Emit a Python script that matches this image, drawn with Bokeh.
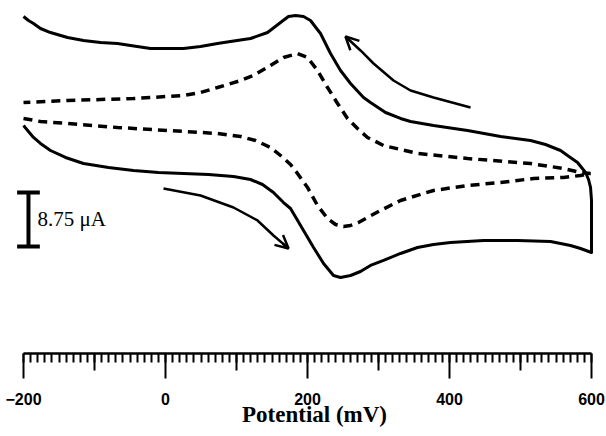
from bokeh.plotting import figure
from bokeh.models import Range1d, LinearAxis, FixedTicker, Label, Arrow, OpenHead, Grid
from bokeh.embed import file_html
from bokeh.resources import INLINE

# ---- data (potential in mV, current in uA) ----
solid_mv = [-200.0, -193.0, -185.9, -176.1, -162.0, -140.8, -115.5, -80.3, -45.1, -9.9,
            25.4, 60.6, 95.8, 119.7, 136.6, 152.1, 166.2, 176.1, 194.4, 208.5,
            222.6, 236.6, 246.5, 260.6, 274.6, 288.7, 307.1, 331.0, 354.9, 377.5,
            401.4, 447.9, 495.8, 542.3, 570.4, 584.5, 600.0, 600.0, 600.0, 598.6,
            595.8, 591.6, 580.3, 566.2, 556.4, 535.2, 514.1, 471.9, 425.4, 377.5,
            345.1, 331.0, 309.9, 288.7, 278.9, 260.6, 246.5, 232.4, 218.3, 204.2,
            194.4, 183.1, 173.2, 162.0, 143.7, 119.7, 91.5, 73.2, 49.3, 25.4,
            0.0, -21.1, -49.3, -67.6, -91.5, -115.5, -138.0, -162.0, -176.1, -185.9,
            -193.0, -200.0]
solid_ua = [8.10, 7.13, 6.16, 5.19, 4.05, 2.92, 1.94, 1.30, 0.81, 0.49,
            0.32, 0.16, -0.16, -0.65, -1.46, -2.75, -4.38, -5.35, -8.91, -11.67,
            -14.26, -16.21, -16.53, -16.21, -15.56, -14.58, -13.77, -12.64, -11.67, -11.18,
            -10.86, -10.53, -10.53, -10.70, -11.34, -11.83, -12.48, -8.91, -4.05, -1.94,
            -0.65, 0.49, 2.11, 3.24, 4.05, 5.02, 5.67, 6.32, 7.29, 8.10,
            8.75, 9.24, 10.21, 11.83, 12.64, 14.91, 17.02, 19.77, 23.01, 25.12,
            25.77, 25.93, 25.77, 24.79, 23.17, 22.20, 21.71, 21.39, 20.90, 20.58,
            20.58, 20.58, 21.07, 21.39, 21.55, 21.88, 22.36, 23.17, 23.82, 24.63,
            25.12, 25.77]

dashed_mv = [-200.0, -176.1, -138.0, -67.6, 2.8, 73.2, 105.6, 126.8, 147.9, 162.0,
             176.1, 185.9, 200.0, 214.1, 228.2, 239.4, 250.7, 260.6, 271.8, 284.5,
             302.8, 331.0, 377.5, 425.4, 471.9, 518.3, 560.6, 584.5, 598.6,
             584.5, 560.6, 514.1, 425.4, 354.9, 307.1, 284.5, 270.4, 256.3, 242.3,
             228.2, 214.1, 200.0, 185.9, 166.2, 147.9, 123.9, 105.6, 73.2, 49.3,
             25.4, -45.1, -138.0, -200.0]
dashed_ua = [9.24, 8.75, 8.43, 7.78, 7.29, 6.81, 6.32, 5.67, 4.54, 3.24,
             1.78, 0.32, -1.94, -4.86, -6.97, -7.94, -8.26, -8.10, -7.62, -6.81,
             -5.67, -4.05, -2.43, -1.62, -1.13, -0.49, -0.32, 0.0, 0.32,
             0.49, 1.13, 1.94, 2.75, 3.57, 4.86, 6.16, 7.62, 9.24, 11.67,
             14.26, 17.02, 19.12, 19.77, 19.12, 17.83, 16.21, 15.39, 14.26, 13.45,
             12.96, 12.48, 12.15, 11.83]

# scan-direction arrows
arrow_rev_mv = [429.6, 377.5, 345.1, 321.1, 293.0, 274.7, 256.4, 253.5]
arrow_rev_ua = [11.02, 12.64, 13.77, 15.39, 18.15, 20.26, 22.20, 22.52]
arrow_fwd_mv = [-2.8, 49.3, 95.8, 129.6, 152.1, 165.0, 173.3]
arrow_fwd_ua = [-2.11, -3.24, -5.19, -7.29, -9.72, -11.0, -11.83]

# scale bar
scale_ua = 8.75
scale_label = "8.75 \u03bcA"

# axis ticks
major_ticks = [-200, 0, 200, 400, 600]
mid_ticks = [-100, 100, 300, 500]
minor_ticks = list(range(-200, 601, 10))
x_title = "Potential (mV)"

# ---- layout constants ----
AXIS_Y = -28.84
SCALE_X = -193.0
SCALE_TOP = -2.75
SERIF_HALF = 16.0

p = figure(width=606, height=436, output_backend="svg", toolbar_location=None,
           x_range=Range1d(-232.4, 621.1), y_range=Range1d(-42.30, 28.36),
           x_axis_location=None, y_axis_location=None, min_border=0)
p.outline_line_color = None
p.background_fill_color = "white"
p.border_fill_color = "white"
p.center = [r for r in p.center if not isinstance(r, Grid)]

p.line(solid_mv, solid_ua, line_color="black", line_width=3, line_join="round")
p.line(dashed_mv, dashed_ua, line_color="black", line_width=3.5, line_dash="9 6")

for xs, ys in ((arrow_rev_mv, arrow_rev_ua), (arrow_fwd_mv, arrow_fwd_ua)):
    p.line(xs, ys, line_color="black", line_width=2.5)
    p.add_layout(Arrow(end=OpenHead(size=13, line_width=2.5, line_color="black"),
                       x_start=xs[-2], y_start=ys[-2], x_end=xs[-1], y_end=ys[-1],
                       line_width=2.5, line_color="black"))

# scale bar (I-beam)
bot = SCALE_TOP - scale_ua
p.segment(x0=[SCALE_X, SCALE_X - SERIF_HALF, SCALE_X - SERIF_HALF],
          y0=[SCALE_TOP, SCALE_TOP, bot],
          x1=[SCALE_X, SCALE_X + SERIF_HALF, SCALE_X + SERIF_HALF],
          y1=[bot, SCALE_TOP, bot], line_color="black", line_width=4)
p.add_layout(Label(x=-180.3, y=SCALE_TOP - scale_ua / 2, text=scale_label,
                   text_font="Liberation Serif", text_font_size="21px",
                   text_baseline="middle", text_align="left", text_color="black"))

# x axis (main: long ticks + minor ticks + labels)
ax = LinearAxis(fixed_location=AXIS_Y, bounds=(-200, 600),
                ticker=FixedTicker(ticks=major_ticks, minor_ticks=minor_ticks))
ax.axis_line_width = 2.5
ax.axis_line_color = "black"
ax.major_tick_out = 25
ax.major_tick_in = 0
ax.minor_tick_out = 9
ax.minor_tick_in = 0
ax.major_tick_line_width = 2
ax.minor_tick_line_width = 2
ax.major_label_text_font = "Liberation Sans"
ax.major_label_text_font_style = "bold"
ax.major_label_text_font_size = "16px"
ax.major_label_text_color = "black"
ax.major_label_standoff = 15
p.add_layout(ax, "below")

# medium ticks at odd hundreds (no labels)
ax2 = LinearAxis(fixed_location=AXIS_Y, bounds=(-200, 600),
                 ticker=FixedTicker(ticks=mid_ticks, minor_ticks=[]))
ax2.axis_line_color = None
ax2.major_tick_out = 17
ax2.major_tick_in = 0
ax2.major_tick_line_width = 2
ax2.minor_tick_line_color = None
ax2.major_label_text_color = None
p.add_layout(ax2, "below")

p.add_layout(Label(x=209.9, y=-38.73, text=x_title, text_font="Liberation Serif",
                   text_font_style="bold", text_font_size="23px",
                   text_align="center", text_baseline="middle", text_color="black"))

open("out.html", "w").write(file_html(p, INLINE))
